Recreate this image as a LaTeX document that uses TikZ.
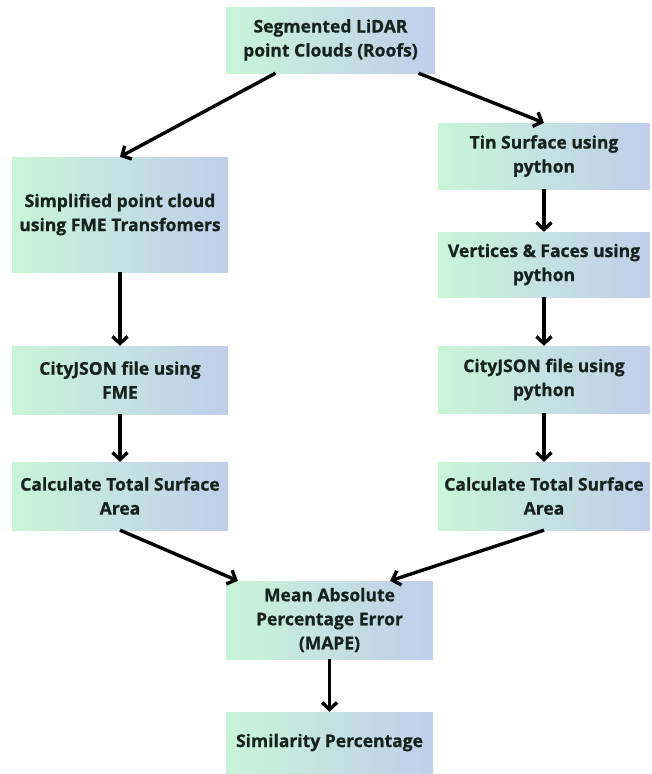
\documentclass[tikz,border=0pt]{standalone}
\usepackage{fontspec}
\setmainfont{Open Sans}[BoldFeatures={FakeBold=0.8}]
\usetikzlibrary{arrows.meta}
\definecolor{box-green}{RGB}{200,245,216}
\definecolor{box-mid}{RGB}{196,232,222}
\definecolor{box-blue}{RGB}{192,206,234}
\definecolor{text-dark}{RGB}{22,34,30}

\begin{document}
\begin{tikzpicture}[x=1pt,y=-1pt,
  stepbox/.style={left color=box-green, middle color=box-mid, right color=box-blue, draw=none, text=text-dark,
    font=\bfseries\fontsize{17.5}{24}\selectfont, align=center, inner sep=0pt},
  flow/.style={-{Straight Barb[length=7pt,width=15pt]}, line width=3.4pt}]
\useasboundingbox (0,0) rectangle (652,774);

\node[stepbox, minimum width=209pt, minimum height=66pt] (roofs) at (330.5,40) {Segmented LiDAR\\point Clouds (Roofs)};

\node[stepbox, minimum width=216pt, minimum height=115pt] (simple) at (120,214.5) {Simplified point cloud\\using FME Transfomers};
\node[stepbox, minimum width=216pt, minimum height=68pt] (cityfme) at (120,380) {CityJSON file using\\FME};
\node[stepbox, minimum width=216pt, minimum height=68pt] (areafme) at (120,496) {Calculate Total Surface\\Area};

\node[stepbox, minimum width=212pt, minimum height=66pt] (tin) at (544,156) {Tin Surface using\\python};
\node[stepbox, minimum width=212pt, minimum height=65pt] (faces) at (544,264.5) {Vertices \& Faces using\\python};
\node[stepbox, minimum width=212pt, minimum height=67pt] (citypy) at (544,379.5) {CityJSON file using\\python};
\node[stepbox, minimum width=212pt, minimum height=68pt] (areapy) at (544,496) {Calculate Total Surface\\Area};

\node[stepbox, minimum width=207pt, minimum height=78pt] (mape) at (329.5,620) {Mean Absolute\\Percentage Error\\(MAPE)};
\node[stepbox, minimum width=207pt, minimum height=61pt] (similar) at (329.5,742.5) {Similarity Percentage};

% left branch
\draw[flow] ([xshift=-55pt]roofs.south) -- (simple.north);
\draw[flow] (simple) -- (cityfme);
\draw[flow] (cityfme) -- (areafme);

% right branch
\draw[flow] ([xshift=88pt]roofs.south) -- (tin.north);
\draw[flow] (tin) -- (faces);
\draw[flow] (faces) -- (citypy);
\draw[flow] (citypy) -- (areapy);

% merge
\draw[flow] (areafme.south) -- ([xshift=12pt]mape.north west);
\draw[flow] (areapy.south) -- ([xshift=-43pt]mape.north east);
\draw[flow] (mape) -- (similar);
\end{tikzpicture}
\end{document}
